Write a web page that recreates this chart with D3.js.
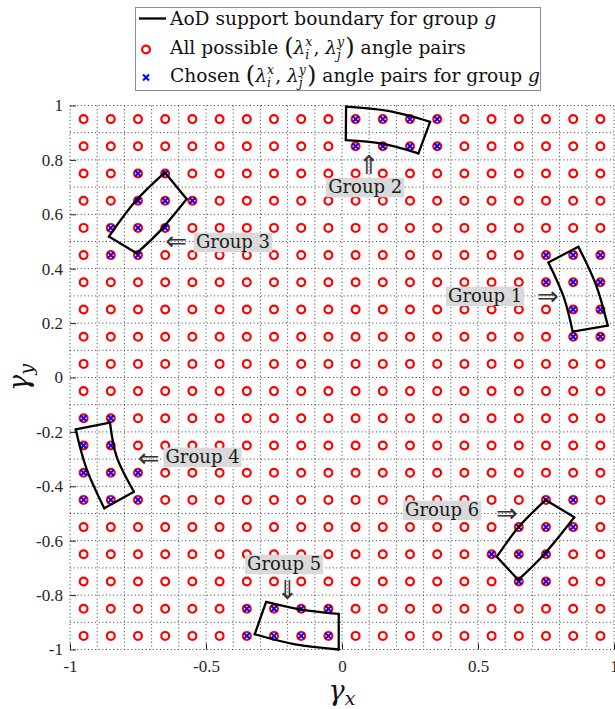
<!DOCTYPE html>
<html>
<head>
<meta charset="utf-8">
<script src="https://cdn.jsdelivr.net/npm/d3@7"></script>
<style>
body { margin: 0; background: #fff; }
text { white-space: pre; }
</style>
</head>
<body>
<div id="figure"></div>
<script>
//----------------------------------------------------------------
// data
//----------------------------------------------------------------
var angleValues = [-0.95, -0.85, -0.75, -0.65, -0.55, -0.45, -0.35, -0.25, -0.15, -0.05,
                   0.05, 0.15, 0.25, 0.35, 0.45, 0.55, 0.65, 0.75, 0.85, 0.95];
var gridValues = [-1, -0.9, -0.8, -0.7, -0.6, -0.5, -0.4, -0.3, -0.2, -0.1,
                  0, 0.1, 0.2, 0.3, 0.4, 0.5, 0.6, 0.7, 0.8, 0.9, 1];
var xTicks = [-1, -0.5, 0, 0.5, 1];
var yTicks = [-1, -0.8, -0.6, -0.4, -0.2, 0, 0.2, 0.4, 0.6, 0.8, 1];

var groupNames = ["Group 1", "Group 2", "Group 3", "Group 4", "Group 5", "Group 6"];

// chosen (gamma_x, gamma_y) pairs for each group
var chosen1 = [[0.75,0.45],[0.85,0.45],[0.95,0.45],[0.75,0.35],[0.85,0.35],[0.95,0.35],
               [0.85,0.25],[0.95,0.25],[0.85,0.15],[0.95,0.15]];
var chosen2 = [[0.05,0.95],[0.15,0.95],[0.25,0.95],[0.35,0.95],
               [0.05,0.85],[0.15,0.85],[0.25,0.85],[0.35,0.85]];
var chosen3 = [[-0.75,0.75],[-0.65,0.75],[-0.75,0.65],[-0.65,0.65],[-0.55,0.65],
               [-0.85,0.55],[-0.75,0.55],[-0.65,0.55],[-0.85,0.45],[-0.75,0.45]];
var chosen4 = [[-0.95,-0.15],[-0.85,-0.15],[-0.95,-0.25],[-0.85,-0.25],[-0.95,-0.35],
               [-0.85,-0.35],[-0.75,-0.35],[-0.95,-0.45],[-0.85,-0.45],[-0.75,-0.45]];
var chosen5 = [[-0.35,-0.85],[-0.25,-0.85],[-0.15,-0.85],[-0.05,-0.85],
               [-0.35,-0.95],[-0.25,-0.95],[-0.15,-0.95],[-0.05,-0.95]];
var chosen6 = [[0.75,-0.45],[0.85,-0.45],[0.65,-0.55],[0.75,-0.55],[0.85,-0.55],
               [0.55,-0.65],[0.65,-0.65],[0.75,-0.65],[0.65,-0.75],[0.75,-0.75]];
var chosenPairs = [chosen1, chosen2, chosen3, chosen4, chosen5, chosen6];

// AoD support boundaries, one list of edges per group (3-point edges are curved)
var boundary1 = [[[0.759,0.423],[0.869,0.481]],
                 [[0.869,0.481],[0.934,0.340],[0.977,0.191]],
                 [[0.977,0.191],[0.848,0.169]],
                 [[0.848,0.169],[0.815,0.296],[0.759,0.423]]];
var boundary2 = [[[0.015,0.996],[0.170,0.980],[0.324,0.940]],
                 [[0.324,0.940],[0.281,0.824]],
                 [[0.281,0.824],[0.148,0.860],[0.014,0.873]],
                 [[0.014,0.873],[0.015,0.996]]];
var boundary3 = [[[-0.651,0.754],[-0.571,0.656]],
                 [[-0.571,0.656],[-0.667,0.541],[-0.755,0.457]],
                 [[-0.755,0.457],[-0.857,0.518]],
                 [[-0.857,0.518],[-0.761,0.646],[-0.651,0.754]]];
var boundary4 = [[[-0.979,-0.191],[-0.853,-0.166]],
                 [[-0.853,-0.166],[-0.828,-0.293],[-0.765,-0.420]],
                 [[-0.765,-0.420],[-0.874,-0.481]],
                 [[-0.874,-0.481],[-0.939,-0.336],[-0.979,-0.191]]];
var boundary5 = [[[-0.279,-0.825],[-0.150,-0.853],[-0.012,-0.869]],
                 [[-0.012,-0.869],[-0.012,-1.0]],
                 [[-0.012,-1.0],[-0.172,-0.981],[-0.321,-0.944]],
                 [[-0.321,-0.944],[-0.279,-0.825]]];
var boundary6 = [[[0.749,-0.450],[0.854,-0.514]],
                 [[0.854,-0.514],[0.746,-0.647],[0.648,-0.744]],
                 [[0.648,-0.744],[0.569,-0.659]],
                 [[0.569,-0.659],[0.651,-0.548],[0.749,-0.450]]];
var boundaries = [boundary1, boundary2, boundary3, boundary4, boundary5, boundary6];

// annotation text (start, baseline) and arrow centres, data units
var labelPos = [[0.390,0.278],[-0.051,0.678],[-0.537,0.476],[-0.649,-0.314],[-0.349,-0.708],[0.232,-0.509]];
var arrowGlyph = ["\u21D2", "\u21D1", "\u21D0", "\u21D0", "\u21D3", "\u21D2"];
var arrowPos = [[0.757,0.300],[0.099,0.781],[-0.610,0.502],[-0.711,-0.296],[-0.201,-0.781],[0.606,-0.497]];

//----------------------------------------------------------------
// svg & scales
//----------------------------------------------------------------
var largeur = 615, hauteur = 709;
var zone = {gauche: 70, droite: 614, haut: 105.5, bas: 649.5};
var serif = "'DejaVu Serif', serif";
var tickFont = "'Liberation Serif', serif";

var svg = d3.select("#figure").append("svg")
    .attr("width", largeur)
    .attr("height", hauteur)
    .style("display", "block");

var x = d3.scaleLinear().domain([-1, 1]).range([zone.gauche, zone.droite]);
var y = d3.scaleLinear().domain([-1, 1]).range([zone.bas, zone.haut]);

// dotted grid (also draws the box)
var grille = svg.append("g")
    .attr("stroke", "#3a3a3a")
    .attr("stroke-width", 1)
    .attr("stroke-dasharray", "1,2.6");
grille.selectAll(".gx").data(gridValues).enter().append("line")
    .attr("x1", function(d){ return x(d); }).attr("x2", function(d){ return x(d); })
    .attr("y1", zone.haut).attr("y2", zone.bas);
grille.selectAll(".gy").data(gridValues).enter().append("line")
    .attr("y1", function(d){ return y(d); }).attr("y2", function(d){ return y(d); })
    .attr("x1", zone.gauche).attr("x2", zone.droite);

// axes
var axeX = svg.append("g")
    .attr("transform", "translate(0," + zone.bas + ")")
    .call(d3.axisBottom(x).tickValues(xTicks).tickSize(-6).tickPadding(10)
        .tickFormat(function(d){ return String(d); }));
var axeY = svg.append("g")
    .attr("transform", "translate(" + zone.gauche + ",0)")
    .call(d3.axisLeft(y).tickValues(yTicks).tickSize(-6).tickPadding(7)
        .tickFormat(function(d){ return String(d); }));
[axeX, axeY].forEach(function(a){
    a.select(".domain").remove();
    a.selectAll("line").attr("stroke", "#262626");
    a.selectAll("text").attr("fill", "#262626")
        .style("font-family", tickFont).style("font-size", "17px");
});

// all possible angle pairs
var paires = d3.cross(angleValues, angleValues);
svg.append("g").selectAll("circle").data(paires).enter().append("circle")
    .attr("cx", function(d){ return x(d[0]); })
    .attr("cy", function(d){ return y(d[1]); })
    .attr("r", 3.9)
    .attr("fill", "none")
    .attr("stroke", "#ff0000")
    .attr("stroke-width", 2.2);

// chosen pairs
var croix = "M-3,-3L3,3M-3,3L3,-3";
chosenPairs.forEach(function(liste){
    svg.append("g").selectAll("path").data(liste).enter().append("path")
        .attr("d", croix)
        .attr("transform", function(d){ return "translate(" + x(d[0]) + "," + y(d[1]) + ")"; })
        .attr("stroke", "#0000ff")
        .attr("stroke-width", 2);
});

// boundaries
var ligne = d3.line()
    .x(function(d){ return x(d[0]); })
    .y(function(d){ return y(d[1]); })
    .curve(d3.curveNatural);
boundaries.forEach(function(b){
    svg.append("g").selectAll("path").data(b).enter().append("path")
        .attr("d", ligne)
        .attr("fill", "none")
        .attr("stroke", "#000")
        .attr("stroke-width", 2.3)
        .attr("stroke-linecap", "round");
});

// group annotations
groupNames.forEach(function(nom, i){
    var g = svg.append("g");
    var t = g.append("text")
        .attr("x", x(labelPos[i][0]))
        .attr("y", y(labelPos[i][1]))
        .style("font-family", serif)
        .style("font-size", "18px")
        .attr("fill", "#1a1a1a")
        .text(nom);
    var w = t.node().getComputedTextLength();
    g.insert("rect", "text")
        .attr("x", x(labelPos[i][0]) - 2)
        .attr("y", y(labelPos[i][1]) - 15.3)
        .attr("width", w + 4)
        .attr("height", 19.5)
        .attr("fill", "#d9d9d9");
    svg.append("text")
        .attr("x", x(arrowPos[i][0]))
        .attr("y", y(arrowPos[i][1]))
        .attr("text-anchor", "middle")
        .attr("dominant-baseline", "central")
        .style("font-family", "'DejaVu Sans', sans-serif")
        .style("font-size", "26px")
        .attr("fill", "#333")
        .text(arrowGlyph[i]);
});

//----------------------------------------------------------------
// text with math pieces
//----------------------------------------------------------------
function texteRiche(g, x0, y0, morceaux, taille){
    var cx = x0;
    morceaux.forEach(function(m){
        if (m.sup !== undefined) {
            var a = g.append("text").attr("x", cx).attr("y", y0 - taille * 0.42)
                .style("font-family", serif).style("font-style", "italic")
                .style("font-size", (taille * 0.68) + "px").text(m.sup);
            var b = g.append("text").attr("x", cx).attr("y", y0 + taille * 0.25)
                .style("font-family", serif).style("font-style", "italic")
                .style("font-size", (taille * 0.68) + "px").text(m.sub);
            cx += Math.max(a.node().getComputedTextLength(), b.node().getComputedTextLength()) + 1;
        } else {
            var t = g.append("text").attr("x", cx).attr("y", y0 + (m.dy || 0) * taille)
                .attr("xml:space", "preserve")
                .style("font-family", serif)
                .style("font-style", m.it ? "italic" : "normal")
                .style("font-size", (taille * (m.k || 1)) + "px")
                .text(m.t);
            cx += t.node().getComputedTextLength();
        }
    });
    return cx;
}

// legend
var legende = svg.append("g");
legende.append("rect")
    .attr("x", 135.5).attr("y", 7.5)
    .attr("width", 405).attr("height", 83)
    .attr("fill", "#fff").attr("stroke", "#8c8c8c").attr("stroke-width", 1);
legende.append("line")
    .attr("x1", 139).attr("x2", 166).attr("y1", 18.5).attr("y2", 18.5)
    .attr("stroke", "#000").attr("stroke-width", 2.3);
legende.append("circle")
    .attr("cx", 146).attr("cy", 49.5).attr("r", 3.9)
    .attr("fill", "none").attr("stroke", "#ff0000").attr("stroke-width", 2.2);
legende.append("path")
    .attr("d", croix)
    .attr("transform", "translate(146,77.5)")
    .attr("stroke", "#0000ff").attr("stroke-width", 2);

var paire = [
    {t: "(", k: 1.3, dy: 0.08}, {t: "\u03BB", it: true}, {sup: "x", sub: "i"},
    {t: ", "}, {t: "\u03BB", it: true}, {sup: "y", sub: "j"},
    {t: ")", k: 1.3, dy: 0.08}
];
var tl = 18.6;
var lg = legende.append("g").attr("fill", "#111");
texteRiche(lg, 170, 25, [{t: "AoD support boundary for group "}, {t: "g", it: true}], tl);
texteRiche(lg, 170, 54, [{t: "All possible "}].concat(paire).concat([{t: " angle pairs"}]), tl);
texteRiche(lg, 170, 82, [{t: "Chosen "}].concat(paire).concat([{t: " angle pairs for group "}, {t: "g", it: true}]), tl);

// axis labels
var lx = svg.append("text")
    .attr("x", 342).attr("y", 700)
    .attr("text-anchor", "middle")
    .style("font-family", serif).style("font-style", "italic")
    .attr("fill", "#111");
lx.append("tspan").style("font-size", "27px").text("\u03B3");
lx.append("tspan").style("font-size", "19px").attr("dy", 5).text("x");

var ly = svg.append("text")
    .attr("transform", "translate(28," + ((zone.haut + zone.bas) / 2) + ") rotate(-90)")
    .attr("text-anchor", "middle")
    .style("font-family", serif).style("font-style", "italic")
    .attr("fill", "#111");
ly.append("tspan").style("font-size", "27px").text("\u03B3");
ly.append("tspan").style("font-size", "19px").attr("dy", 5).text("y");
</script>
</body>
</html>
